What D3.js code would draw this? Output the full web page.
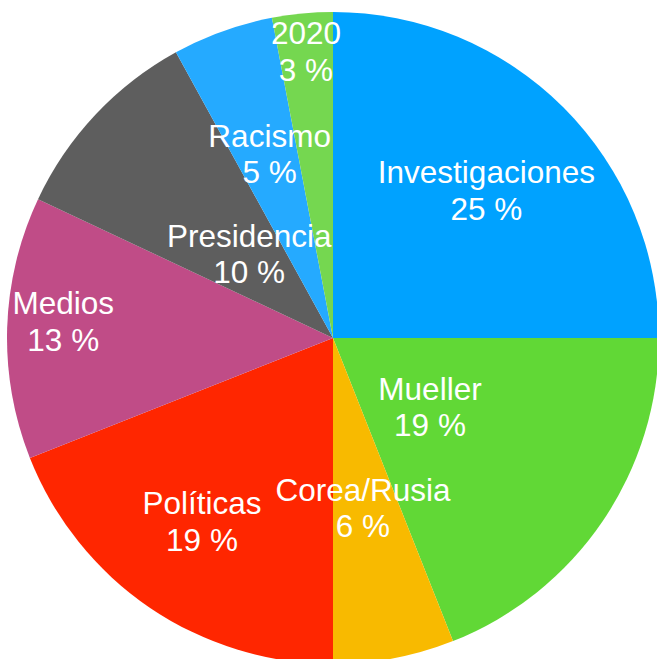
<!DOCTYPE html>
<html>
<head>
<meta charset="utf-8">
<script src="https://cdn.jsdelivr.net/npm/d3@7/dist/d3.min.js"></script>
<style>
  html, body { margin: 0; padding: 0; background: #ffffff; }
  svg { display: block; }
  .slice-label { font-family: "Liberation Sans", Arial, Helvetica, sans-serif; fill: #ffffff; }
</style>
</head>
<body>
<svg id="chart" width="657" height="659"></svg>
<script>
// Topics and their share of coverage (percent), clockwise from 12 o'clock
const categories = ["Investigaciones", "Mueller", "Corea/Rusia", "Políticas", "Medios", "Presidencia", "Racismo", "2020"];
const shares = [25, 19, 6, 19, 13, 10, 5, 3];
const percentLabels = ["25 %", "19 %", "6 %", "19 %", "13 %", "10 %", "5 %", "3 %"];

// Slice fills
const sliceColors = ["#00a2ff", "#61d836", "#f8ba00", "#ff2600", "#c04c87", "#5e5e5e", "#25aaff", "#75d750"];

// Label placement: distance from the centre (fraction of radius) and a small turn (degrees) from each slice's mid-angle
const labelRadius = [0.653, 0.365, 0.529, 0.692, 0.829, 0.364, 0.597, 0.883];
const labelTurn = [1.1, 1.2, 0.8, 1.3, 1.7, 1.9, 0.8, 0.0];

const width = 657, height = 659;
const cx = 333, cy = 338, radius = 326;
const fontSize = 31.5, lineGap = 36.5;

const data = categories.map((c, i) => ({ name: c, value: shares[i], pct: percentLabels[i], color: sliceColors[i], i }));

const pie = d3.pie().value(d => d.value).sort(null).startAngle(0).endAngle(2 * Math.PI);
const arcs = pie(data);
const arc = d3.arc().innerRadius(0).outerRadius(radius);

const svg = d3.select("#chart");
const g = svg.append("g").attr("transform", `translate(${cx},${cy})`);

g.selectAll("path.slice")
  .data(arcs)
  .join("path")
  .attr("class", "slice")
  .attr("d", arc)
  .attr("fill", d => d.data.color);

const labels = g.selectAll("g.label")
  .data(arcs)
  .join("g")
  .attr("class", "label")
  .attr("transform", d => {
    const i = d.data.i;
    const a = (d.startAngle + d.endAngle) / 2 + labelTurn[i] * Math.PI / 180;
    const r = labelRadius[i] * radius;
    return `translate(${r * Math.sin(a)},${-r * Math.cos(a)})`;
  });

labels.append("text")
  .attr("class", "slice-label")
  .attr("text-anchor", "middle")
  .attr("dominant-baseline", "central")
  .attr("font-size", fontSize)
  .attr("y", -lineGap / 2)
  .text(d => d.data.name);

labels.append("text")
  .attr("class", "slice-label")
  .attr("text-anchor", "middle")
  .attr("dominant-baseline", "central")
  .attr("font-size", fontSize)
  .attr("y", lineGap / 2)
  .text(d => d.data.pct);
</script>
</body>
</html>
